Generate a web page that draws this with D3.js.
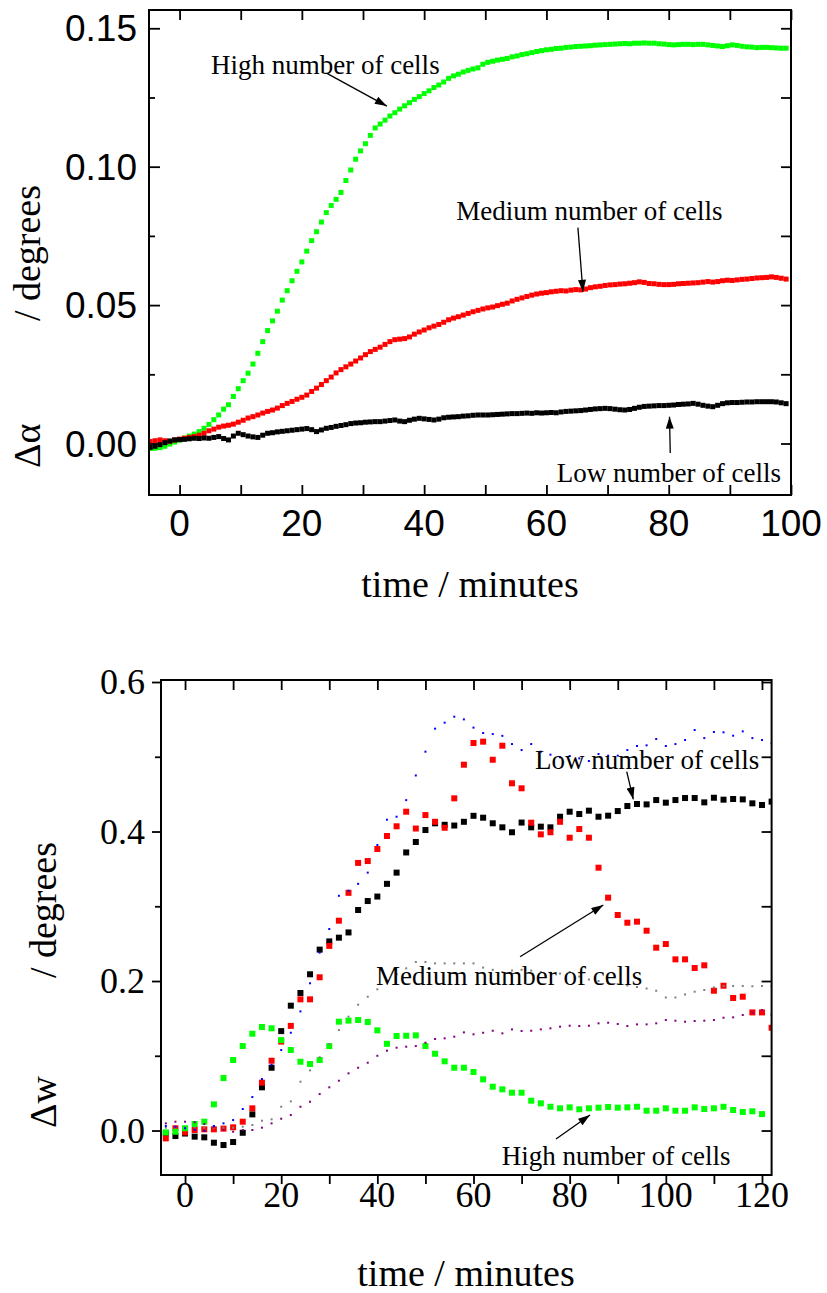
<!DOCTYPE html>
<html><head><meta charset="utf-8">
<script src="https://cdn.jsdelivr.net/npm/d3@7"></script>
<style>body{margin:0;background:#fff}svg{display:block}</style>
</head><body>
<svg id="chart" width="827" height="1293"></svg>
<script>
// ---------------- TOP PANEL DATA (Δα vs time) ----------------
const timeTop = [-4.8,-4,-3.2,-2.4,-1.6,-0.8,0,0.8,1.6,2.4,
 3.2,4,4.8,5.6,6.4,7.2,8,8.8,9.6,10.4,
 11.2,12,12.8,13.6,14.4,15.2,16,16.8,17.6,18.4,
 19.2,20,20.8,21.6,22.4,23.2,24,24.8,25.6,26.4,
 27.2,28,28.8,29.6,30.4,31.2,32,32.8,33.6,34.4,
 35.2,36,36.8,37.6,38.4,39.2,40,40.8,41.6,42.4,
 43.2,44,44.8,45.6,46.4,47.2,48,48.8,49.6,50.4,
 51.2,52,52.8,53.6,54.4,55.2,56,56.8,57.6,58.4,
 59.2,60,60.8,61.6,62.4,63.2,64,64.8,65.6,66.4,
 67.2,68,68.8,69.6,70.4,71.2,72,72.8,73.6,74.4,
 75.2,76,76.8,77.6,78.4,79.2,80,80.8,81.6,82.4,
 83.2,84,84.8,85.6,86.4,87.2,88,88.8,89.6,90.4,
 91.2,92,92.8,93.6,94.4,95.2,96,96.8,97.6,98.4,
 99.2];
const alphaHigh = [-0.0018,-0.0017,-0.0015,-0.0010,-0.0002,0.0005,0.0012,0.0020,0.0027,0.0034,
 0.0043,0.0055,0.0069,0.0086,0.0103,0.0124,0.0140,0.0170,0.0198,0.0227,
 0.0254,0.0287,0.0326,0.0368,0.0408,0.0443,0.0478,0.0518,0.0552,0.0588,
 0.0622,0.0656,0.0695,0.0733,0.0765,0.0800,0.0834,0.0860,0.0882,0.0907,
 0.0950,0.0988,0.1027,0.1057,0.1083,0.1113,0.1140,0.1154,0.1168,0.1183,
 0.1195,0.1208,0.1220,0.1231,0.1243,0.1253,0.1264,0.1274,0.1286,0.1295,
 0.1306,0.1319,0.1328,0.1334,0.1342,0.1348,0.1353,0.1357,0.1370,0.1377,
 0.1381,0.1385,0.1388,0.1391,0.1397,0.1400,0.1405,0.1408,0.1412,0.1416,
 0.1419,0.1422,0.1424,0.1427,0.1428,0.1431,0.1432,0.1434,0.1435,0.1436,
 0.1437,0.1439,0.1440,0.1441,0.1442,0.1443,0.1444,0.1445,0.1444,0.1446,
 0.1446,0.1447,0.1446,0.1446,0.1444,0.1443,0.1441,0.1440,0.1441,0.1442,
 0.1442,0.1441,0.1442,0.1442,0.1440,0.1438,0.1436,0.1434,0.1437,0.1440,
 0.1438,0.1435,0.1433,0.1432,0.1430,0.1431,0.1431,0.1430,0.1429,0.1428,
 0.1428];
const alphaMedium = [0.0007,0.0010,0.0013,0.0010,0.0008,0.0013,0.0016,0.0019,0.0022,0.0025,
 0.0030,0.0037,0.0046,0.0052,0.0059,0.0063,0.0066,0.0070,0.0077,0.0084,
 0.0092,0.0097,0.0103,0.0110,0.0116,0.0121,0.0128,0.0137,0.0145,0.0152,
 0.0160,0.0167,0.0175,0.0188,0.0200,0.0213,0.0227,0.0240,0.0255,0.0267,
 0.0277,0.0287,0.0298,0.0309,0.0321,0.0332,0.0340,0.0348,0.0358,0.0368,
 0.0375,0.0377,0.0379,0.0385,0.0395,0.0403,0.0410,0.0418,0.0424,0.0430,
 0.0438,0.0447,0.0453,0.0458,0.0464,0.0470,0.0476,0.0481,0.0486,0.0490,
 0.0493,0.0498,0.0503,0.0507,0.0515,0.0521,0.0526,0.0531,0.0536,0.0540,
 0.0543,0.0545,0.0548,0.0550,0.0552,0.0551,0.0554,0.0556,0.0555,0.0558,
 0.0563,0.0566,0.0568,0.0571,0.0573,0.0574,0.0576,0.0577,0.0579,0.0581,
 0.0584,0.0582,0.0578,0.0577,0.0575,0.0574,0.0574,0.0575,0.0577,0.0578,
 0.0579,0.0580,0.0581,0.0583,0.0585,0.0583,0.0585,0.0588,0.0590,0.0589,
 0.0591,0.0593,0.0594,0.0596,0.0598,0.0599,0.0600,0.0602,0.0600,0.0597,
 0.0594];
const alphaLow = [-0.0014,-0.0010,-0.0004,0.0003,0.0009,0.0013,0.0014,0.0015,0.0017,0.0019,
 0.0018,0.0020,0.0019,0.0022,0.0025,0.0018,0.0013,0.0027,0.0037,0.0032,
 0.0027,0.0024,0.0022,0.0030,0.0037,0.0039,0.0042,0.0044,0.0046,0.0048,
 0.0050,0.0052,0.0054,0.0050,0.0043,0.0049,0.0055,0.0058,0.0062,0.0065,
 0.0068,0.0072,0.0074,0.0075,0.0077,0.0078,0.0079,0.0079,0.0081,0.0083,
 0.0085,0.0081,0.0079,0.0084,0.0088,0.0091,0.0089,0.0087,0.0085,0.0088,
 0.0093,0.0095,0.0096,0.0097,0.0099,0.0100,0.0102,0.0103,0.0103,0.0103,
 0.0104,0.0105,0.0106,0.0107,0.0108,0.0108,0.0109,0.0110,0.0109,0.0111,
 0.0110,0.0111,0.0112,0.0111,0.0114,0.0116,0.0117,0.0118,0.0119,0.0121,
 0.0123,0.0125,0.0126,0.0127,0.0126,0.0124,0.0122,0.0121,0.0123,0.0127,
 0.0131,0.0134,0.0135,0.0136,0.0137,0.0137,0.0138,0.0139,0.0141,0.0142,
 0.0143,0.0145,0.0142,0.0138,0.0135,0.0133,0.0138,0.0144,0.0147,0.0148,
 0.0148,0.0149,0.0150,0.0150,0.0151,0.0151,0.0151,0.0151,0.0150,0.0147,
 0.0144];
const topXTicks = [0,10,20,30,40,50,60,70,80,90,100];
const topXLabels = [0,20,40,60,80,100];
const topYTicks = [0,0.025,0.05,0.075,0.1,0.125,0.15];
const topYLabels = [0,0.05,0.1,0.15];

// ---------------- BOTTOM PANEL DATA (Δw vs time) ----------------
const timeBot = [-4,-2,0,2,4,6,8,10,12,14,16,18,20,22,24,26,28,30,32,34,36,38,40,42,44,46,48,50,52,54,56,58,60,
 62,64,66,68,70,72,74,76,78,80,82,84,86,88,90,92,94,96,98,100,102,104,106,108,110,112,114,116,118,120,122];
const wLow = [-0.004,-0.0074,-0.004,-0.0082,-0.0091,-0.0163,-0.0194,-0.0154,-0.003,0.0216,0.0578,0.084,0.133,0.167,0.184,0.209,0.242,0.253,0.258,0.265,0.295,0.307,0.313,0.330,0.345,0.372,0.386,0.402,0.411,0.409,0.408,0.413,0.421,
 0.4185,0.411,0.4056,0.399,0.412,0.4056,0.4065,0.4056,0.4198,0.4265,0.4234,0.4279,0.4198,0.4212,0.4274,0.4341,0.4368,0.4363,0.4421,0.4386,0.4421,0.4448,0.4448,0.439,0.4452,0.4426,0.4435,0.443,0.4377,0.4355,0.44];
const wMedium = [-0.0105,0.003,-0.0025,0.0007,0.0016,0.0016,0.0025,0.0043,0.0118,0.0297,0.064,0.0934,0.119,0.140,0.1755,0.1755,0.205,0.247,0.2807,0.318,0.358,0.3605,0.3766,0.394,0.407,0.4265,0.404,0.422,0.413,0.405,0.4444,0.4894,0.5184,
 0.5202,0.496,0.5148,0.4645,0.4578,0.4118,0.3962,0.399,0.413,0.3917,0.4033,0.3917,0.3516,0.3115,0.2883,0.278,0.2794,0.2673,0.2446,0.2495,0.229,0.229,0.2174,0.221,0.187,0.1937,0.1773,0.179,0.158,0.158,0.1375];
const wHigh = [-0.0025,-0.0016,0.003,0.0087,0.0118,0.035,0.0702,0.0943,0.113,0.1295,0.1385,0.1367,0.121,0.1077,0.092,0.089,0.0943,0.113,0.1456,0.147,0.1478,0.1452,0.134,0.116,0.1264,0.1268,0.1273,0.113,0.1027,0.0926,0.084,0.084,0.0783,
 0.0685,0.0586,0.0551,0.0506,0.0506,0.0399,0.0364,0.0318,0.0297,0.031,0.0284,0.0297,0.0306,0.0315,0.0306,0.031,0.0318,0.0265,0.0265,0.0297,0.0265,0.0265,0.031,0.0288,0.0297,0.0318,0.0274,0.0248,0.0257,0.022,null];
const dotBlue = [0.006,0.005,0.003,0.001,-0.0003,0.006,0.0096,0.014,0.0288,0.0448,0.0689,0.088,0.1077,0.1308,0.1594,0.197,0.238,0.2696,0.314,0.3208,0.330,0.345,0.382,0.4158,0.4198,0.442,0.475,0.5068,0.5376,0.5456,0.5536,0.550,0.539,
 0.5318,0.5304,0.528,0.517,0.509,0.517,0.5068,0.5028,0.4993,0.501,0.4979,0.4943,0.5037,0.5015,0.5015,0.509,0.5144,0.5153,0.5237,0.5144,0.517,0.5224,0.5358,0.525,0.5331,0.5327,0.5282,0.534,0.525,0.5224,0.518];
const dotGrey = [0.0038,0.004,0.004,0.004,0.0038,0.0038,0.0038,0.0038,0.0051,0.0074,0.0131,0.015,0.0318,0.039,0.0653,0.0805,0.098,0.1157,0.1344,0.1523,0.1683,0.179,0.1889,0.199,0.209,0.217,0.2254,0.2254,0.2236,0.2236,0.2236,0.2236,0.2236,
 0.218,0.215,0.212,0.214,0.215,0.214,0.212,0.211,0.21,0.212,0.206,0.202,0.2,0.198,0.196,0.194,0.192,0.19,0.187,0.178,0.178,0.182,0.1857,0.188,0.1915,0.1933,0.1933,0.1933,0.193,0.1933,0.193];
const dotPurple = [0.0096,0.0118,0.0118,0.011,0.0087,0.0051,0.0007,-0.0016,0.0007,0.0007,0.0038,0.0096,0.0158,0.0207,0.0318,0.0385,0.0488,0.0578,0.0666,0.0765,0.084,0.0907,0.1,0.1068,0.1108,0.1121,0.113,0.1175,0.1224,0.1233,0.1255,0.1313,0.1287,
 0.1308,0.1335,0.13,0.1353,0.1331,0.1335,0.1353,0.1367,0.1389,0.1402,0.1398,0.1402,0.1434,0.1442,0.1425,0.1398,0.142,0.142,0.1434,0.1478,0.1469,0.1456,0.1465,0.1469,0.1478,0.1509,0.1514,0.1545,0.1576,0.1612,0.155];
const botXTicks = [0,10,20,30,40,50,60,70,80,90,100,110,120];
const botXLabels = [0,20,40,60,80,100,120];
const botYTicks = [0,0.1,0.2,0.3,0.4,0.5,0.6];
const botYLabels = [0,0.2,0.4,0.6];

// annotation anchors in data units
const topNotes = [
  {text:"High number of cells", tx:5.13, ty:0.1335, ax1:24.1, ay1:0.1337, ax2:33.9, ay2:0.1219},
  {text:"Medium number of cells", tx:45.25, ty:0.0807, ax1:65.15, ay1:0.078, ax2:65.97, ay2:0.0548},
  {text:"Low number of cells", tx:61.7, ty:-0.0139, ax1:80.25, ay1:-0.0034, ax2:80.13, ay2:0.0097}
];
const botNotes = [
  {text:"Low number of cells", tx:72.8, ty:0.4832, ax1:91.87, ay1:0.48, ax2:93.24, ay2:0.4431},
  {text:"Medium number of cells", tx:39.73, ty:0.1947, ax1:69.68, ay1:0.2325, ax2:87.0, ay2:0.3017},
  {text:"High number of cells", tx:65.87, ty:-0.0462, ax1:77.16, ay1:-0.0114, ax2:84.23, ay2:0.0207}
];

// ---------------- DRAWING ----------------
const SANS = "'Liberation Sans', Arial, sans-serif";
const SERIF = "'Liberation Serif', 'Times New Roman', serif";
const svg = d3.select('#chart');
svg.append('rect').attr('width',827).attr('height',1293).attr('fill','#fff');
const defs = svg.append('defs');
defs.append('marker').attr('id','ah').attr('viewBox','0 0 12 8').attr('refX',12).attr('refY',4)
  .attr('markerWidth',13).attr('markerHeight',8).attr('markerUnits','userSpaceOnUse').attr('orient','auto')
  .append('path').attr('d','M0,0 L12,4 L0,8 Z').attr('fill','#000');

function zip(t, v){ return t.map((d,i)=>({t:d, v:v[i]})).filter(d=>d.v!==null && d.v!==undefined); }

function frameAndTicks(g, x, y, o){
  const [x0,x1] = x.range(), [y0,y1] = y.range();
  const tk = (sel)=>{ sel.select('.domain').remove(); sel.selectAll('line').attr('stroke','#000').attr('stroke-width',1.8); };
  g.append('g').attr('transform',`translate(0,${y0})`)
    .call(d3.axisBottom(x).tickValues(o.xTicks).tickSize(o.bottomSize).tickFormat('')).call(tk);
  g.append('g').attr('transform',`translate(0,${y1})`)
    .call(d3.axisTop(x).tickValues(o.xTicks).tickSize(-10).tickFormat('')).call(tk);
  const maj = o.yTicks.filter(v=>o.yLabels.some(l=>Math.abs(l-v)<1e-9));
  const min = o.yTicks.filter(v=>!o.yLabels.some(l=>Math.abs(l-v)<1e-9));
  g.append('g').attr('transform',`translate(${x0},0)`)
    .call(d3.axisLeft(y).tickValues(maj).tickSize(o.leftMaj).tickFormat('')).call(tk);
  g.append('g').attr('transform',`translate(${x0},0)`)
    .call(d3.axisLeft(y).tickValues(min).tickSize(o.leftMin).tickFormat('')).call(tk);
  g.append('g').attr('transform',`translate(${x1},0)`)
    .call(d3.axisRight(y).tickValues(o.yTicks).tickSize(-10).tickFormat('')).call(tk);
  g.append('rect').attr('x',x0).attr('y',y1).attr('width',x1-x0).attr('height',y0-y1)
    .attr('fill','none').attr('stroke','#000').attr('stroke-width',2);
  g.append('g').selectAll('text').data(o.xLabels).join('text')
    .attr('x',d=>x(d)).attr('y',o.xLabelBase).attr('text-anchor','middle')
    .attr('font-family',o.tickFont).attr('font-size',o.tickSize).text(d=>d3.format(o.xFmt)(d));
  g.append('g').selectAll('text').data(o.yLabels).join('text')
    .attr('x',o.yLabelRight).attr('y',d=>y(d)+o.yLabelShift).attr('text-anchor','end')
    .attr('font-family',o.tickFont).attr('font-size',o.tickSize).text(d=>d3.format(o.yFmt)(d));
}

function squares(g, data, x, y, s, color){
  g.append('g').selectAll('rect').data(data).join('rect')
    .attr('x',d=>x(d.t)-s/2).attr('y',d=>y(d.v)-s/2).attr('width',s).attr('height',s).attr('fill',color);
}
function notes(g, list, x, y){
  list.forEach(n=>{
    g.append('text').attr('x',x(n.tx)).attr('y',y(n.ty)).attr('font-family',SERIF).attr('font-size',27).text(n.text);
    g.append('line').attr('x1',x(n.ax1)).attr('y1',y(n.ay1)).attr('x2',x(n.ax2)).attr('y2',y(n.ay2))
      .attr('stroke','#000').attr('stroke-width',1.3).attr('marker-end','url(#ah)');
  });
}
// rotated axis title: greek part near the bottom end, "/ degrees" ending at the top end
function yTitle(g, bx, yTopEnd, yBottomStart, greek){
  const r = g.append('g').attr('transform',`translate(${bx},0) rotate(-90)`)
    .attr('font-family',SERIF).attr('font-size',38);
  r.append('text').attr('x',-yBottomStart).attr('y',0).attr('text-anchor','start').text(greek);
  r.append('text').attr('x',-yTopEnd).attr('y',0).attr('text-anchor','end').text('/ degrees');
}

// ---- top panel ----
const xT = d3.scaleLinear().domain([-5,100]).range([149,791]);
const yT = d3.scaleLinear().domain([-0.0186,0.1566]).range([495,10]);
const gT = svg.append('g');
defs.append('clipPath').attr('id','clipT').append('rect')
  .attr('x',149).attr('y',10).attr('width',642).attr('height',485);
const pT = gT.append('g').attr('clip-path','url(#clipT)');
squares(pT, zip(timeTop, alphaHigh), xT, yT, 5, '#00ff00');
squares(pT, zip(timeTop, alphaMedium), xT, yT, 5, '#ff0000');
squares(pT, zip(timeTop, alphaLow), xT, yT, 5, '#000000');
frameAndTicks(gT, xT, yT, {xTicks:topXTicks, xLabels:topXLabels, yTicks:topYTicks, yLabels:topYLabels,
  bottomSize:-10, leftMaj:-11, leftMin:-6, tickFont:SANS, tickSize:37, xFmt:'d', yFmt:'.2f',
  xLabelBase:536, yLabelRight:137, yLabelShift:13});
notes(gT, topNotes, xT, yT);
gT.append('text').attr('x',470).attr('y',597).attr('text-anchor','middle')
  .attr('font-family',SERIF).attr('font-size',38).text('time / minutes');
yTitle(gT, 40, 185, 468, 'Δα');

// ---- bottom panel ----
const xB = d3.scaleLinear().domain([-5,122]).range([161,771.6]);
const yB = d3.scaleLinear().domain([-0.0595,0.6027]).range([1175,680]);
const gB = svg.append('g');
defs.append('clipPath').attr('id','clipB').append('rect')
  .attr('x',161).attr('y',680).attr('width',611).attr('height',495);
const pB = gB.append('g').attr('clip-path','url(#clipB)');
squares(pB, zip(timeBot, wLow), xB, yB, 6, '#000000');
squares(pB, zip(timeBot, wMedium), xB, yB, 6, '#ff0000');
squares(pB, zip(timeBot, wHigh), xB, yB, 6, '#00ff00');
squares(pB, zip(timeBot, dotGrey), xB, yB, 2, '#808080');
squares(pB, zip(timeBot, dotPurple), xB, yB, 2, '#800080');
squares(pB, zip(timeBot, dotBlue), xB, yB, 2, '#0000ff');
frameAndTicks(gB, xB, yB, {xTicks:botXTicks, xLabels:botXLabels, yTicks:botYTicks, yLabels:botYLabels,
  bottomSize:9, leftMaj:9, leftMin:6, tickFont:SERIF, tickSize:36, xFmt:'d', yFmt:'.1f',
  xLabelBase:1207, yLabelRight:145, yLabelShift:12});
notes(gB, botNotes, xB, yB);
gB.append('text').attr('x',466).attr('y',1286).attr('text-anchor','middle')
  .attr('font-family',SERIF).attr('font-size',38).text('time / minutes');
yTitle(gB, 56, 842, 1128, 'Δw');
</script>
</body></html>
